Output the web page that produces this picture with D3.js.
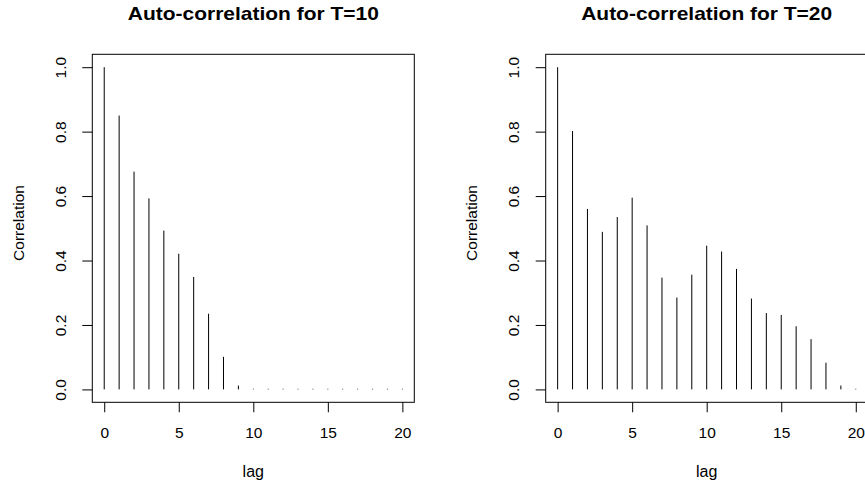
<!DOCTYPE html>
<html>
<head>
<meta charset="utf-8">
<script src="https://cdn.jsdelivr.net/npm/d3@7"></script>
<style>
  html, body { margin: 0; padding: 0; background: #fff; }
  svg { display: block; font-family: "Liberation Sans", Arial, Helvetica, sans-serif; }
</style>
</head>
<body>
<svg id="chart" width="865" height="487"></svg>
<script>
// Lags shown on the x axis
const lags = [0, 1, 2, 3, 4, 5, 6, 7, 8, 9, 10, 11, 12, 13, 14, 15, 16, 17, 18, 19, 20];

// Sample auto-correlation for the two window lengths
const acfT10 = [1.0, 0.850, 0.676, 0.593, 0.493, 0.421, 0.349, 0.235, 0.101, 0.012,
                0.002, 0.002, 0.002, 0.002, 0.002, 0.002, 0.002, 0.002, 0.002, 0.002, 0.002];
const acfT20 = [1.0, 0.802, 0.560, 0.489, 0.535, 0.595, 0.509, 0.347, 0.285, 0.356,
                0.446, 0.428, 0.374, 0.282, 0.237, 0.231, 0.196, 0.156, 0.083, 0.012, 0.002];

// Tick values
const xTicks = [0, 5, 10, 15, 20];
const yTicks = [0.0, 0.2, 0.4, 0.6, 0.8, 1.0];

const titles = ["Auto-correlation for T=10", "Auto-correlation for T=20"];

const svg = d3.select("#chart");
svg.append("rect").attr("width", 865).attr("height", 487).attr("fill", "#fff");

const boxW = 322, boxTop = 54.3, boxBottom = 402.3;

function drawPanel(left, title, values) {
  const g = svg.append("g");

  // R-style 4% padding around the data range
  const x = d3.scaleLinear().domain([-0.8, 20.8]).range([left, left + boxW]);
  const y = d3.scaleLinear().domain([-0.04, 1.04]).range([boxBottom, boxTop]);

  // vertical spikes (type = "h")
  g.append("g").selectAll("line")
    .data(lags)
    .join("line")
    .attr("x1", d => x(d)).attr("x2", d => x(d))
    .attr("y1", y(0))
    .attr("y2", (d, i) => y(values[i]))
    .attr("stroke", "#000")
    .attr("stroke-width", 1);

  // x axis
  const xAxis = g.append("g")
    .attr("transform", `translate(0,${boxBottom})`)
    .call(d3.axisBottom(x).tickValues(xTicks).tickSize(10).tickSizeOuter(0).tickFormat(d3.format("d")));
  xAxis.select(".domain").remove();
  xAxis.selectAll(".tick line").attr("stroke", "#000");
  xAxis.selectAll(".tick text")
    .attr("y", 35.4).attr("dy", 0)
    .attr("fill", "#000")
    .style("font-size", "15.5px");

  // y axis with labels rotated parallel to the axis
  const yAxis = g.append("g")
    .attr("transform", `translate(${left},0)`)
    .call(d3.axisLeft(y).tickValues(yTicks).tickSize(10).tickSizeOuter(0).tickFormat(d3.format(".1f")));
  yAxis.select(".domain").remove();
  yAxis.selectAll(".tick line").attr("stroke", "#000");
  yAxis.selectAll(".tick text")
    .attr("x", 0).attr("dy", 0)
    .attr("transform", "translate(-26.3,0) rotate(-90)")
    .attr("text-anchor", "middle")
    .attr("fill", "#000")
    .style("font-size", "15.5px");

  // plot box
  g.append("rect")
    .attr("x", left).attr("y", boxTop)
    .attr("width", boxW).attr("height", boxBottom - boxTop)
    .attr("fill", "none").attr("stroke", "#000").attr("stroke-width", 1);

  // main title
  g.append("text")
    .attr("x", left + boxW / 2).attr("y", 20)
    .attr("text-anchor", "middle")
    .attr("font-weight", "bold")
    .attr("textLength", 251)
    .attr("lengthAdjust", "spacingAndGlyphs")
    .style("font-size", "18.5px")
    .text(title);

  // axis titles
  g.append("text")
    .attr("x", left + boxW / 2).attr("y", 476.7)
    .attr("text-anchor", "middle")
    .style("font-size", "16px")
    .text("lag");

  g.append("text")
    .attr("transform", `translate(${left - 68.3},223) rotate(-90)`)
    .attr("text-anchor", "middle")
    .style("font-size", "15.5px")
    .text("Correlation");
}

drawPanel(92.3, titles[0], acfT10);
drawPanel(545.7, titles[1], acfT20);
</script>
</body>
</html>
